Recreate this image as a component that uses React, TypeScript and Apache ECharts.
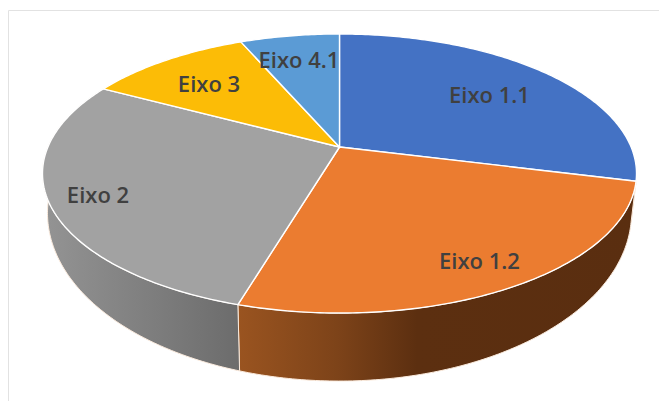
import React, { useEffect, useRef } from "react";
import * as echarts from "echarts";

const categories = ["Eixo 1.1", "Eixo 1.2", "Eixo 2", "Eixo 3", "Eixo 4.1"];
const values = [28.9, 25.7, 28.2, 10.7, 6.5];

const topColors = ["#4472C4", "#EB7C30", "#A2A2A2", "#FCBC06", "#5B9BD5"];
const labelCenters = [
  [489.5, 94],
  [479.5, 260],
  [98, 194],
  [209, 83],
  [299, 59],
];

// perspective geometry of the tilted disc
const CX = 339.5;
const APEX_Y = 147;
const A = 291.6;
const B = 134.5;
const K = -0.19;
const TOP_MID_Y = 173.5;
const BOTTOM_MID_Y = 213;
const BOTTOM_SX = 292 / 297;
const BOTTOM_SY = 168 / 139.5;
const SIDE_FROM = 104;
const SIDE_TO = 300;

const total = values.reduce((s, v) => s + v, 0);
const spans = values.map((v, i) => {
  const before = values.slice(0, i).reduce((s, x) => s + x, 0);
  return [(before / total) * 360, ((before + v) / total) * 360];
});

function topPoint(deg: number): number[] {
  const t = (deg * Math.PI) / 180;
  const X = Math.sin(t);
  const Y = -Math.cos(t);
  const w = 1 + K * Y;
  return [CX + (A * X) / w, APEX_Y + (B * Y) / w];
}

function bottomPoint(deg: number): number[] {
  const [x, y] = topPoint(deg);
  return [CX + (x - CX) * BOTTOM_SX, BOTTOM_MID_Y + (y - TOP_MID_Y) * BOTTOM_SY];
}

function arc(from: number, to: number, fn: (d: number) => number[]): number[][] {
  const pts: number[][] = [];
  const n = Math.max(2, Math.ceil((to - from) / 0.75));
  for (let i = 0; i <= n; i++) pts.push(fn(from + ((to - from) * i) / n));
  return pts;
}

function sideFill(i: number) {
  if (i === 1) {
    return new echarts.graphic.LinearGradient(0, 0, 1, 0, [
      { offset: 0, color: "#9A5420" },
      { offset: 0.25, color: "#7D4319" },
      { offset: 0.45, color: "#5C2F10" },
      { offset: 1, color: "#5A2E10" },
    ]);
  }
  return new echarts.graphic.LinearGradient(0, 0, 1, 0, [
    { offset: 0, color: "#949494" },
    { offset: 0.5, color: "#808080" },
    { offset: 1, color: "#6C6C6C" },
  ]);
}

export default function App() {
  const ref = useRef<HTMLDivElement>(null);

  useEffect(() => {
    document.body.style.margin = "0";
    document.body.style.overflow = "hidden";
    const chart = echarts.init(ref.current!, null, { renderer: "svg" });
    const seriesData = values.map((v, i) => [i, v]);
    chart.setOption({
      animation: false,
      backgroundColor: "#ffffff",
      tooltip: { show: false },
      graphic: [
        {
          type: "polyline",
          silent: true,
          shape: { points: [[8.5, 401], [8.5, 10.5], [659, 10.5]] },
          style: { stroke: "#E2E2E2", lineWidth: 1, fill: "none" },
        },
      ],
      series: [
        {
          type: "custom",
          coordinateSystem: "none",
          z: 1,
          data: seriesData,
          renderItem: (params: any) => {
            const i = params.dataIndex;
            const from = Math.max(spans[i][0], SIDE_FROM);
            const to = Math.min(spans[i][1], SIDE_TO);
            if (to <= from) return { type: "group", children: [] };
            const pts = [...arc(from, to, topPoint), ...arc(from, to, bottomPoint).reverse()];
            return {
              type: "polygon",
              shape: { points: pts },
              style: { fill: sideFill(i), stroke: "#FBEBDD", lineWidth: 1 },
            };
          },
        },
        {
          type: "custom",
          coordinateSystem: "none",
          z: 2,
          data: seriesData,
          renderItem: (params: any) => {
            const i = params.dataIndex;
            const pts = [[CX, APEX_Y], ...arc(spans[i][0], spans[i][1], topPoint)];
            return {
              type: "polygon",
              shape: { points: pts },
              style: { fill: topColors[i], stroke: "#FFFFFF", lineWidth: 1.4, lineJoin: "round" },
            };
          },
        },
        {
          type: "custom",
          coordinateSystem: "none",
          z: 3,
          data: seriesData,
          renderItem: (params: any) => {
            const i = params.dataIndex;
            return {
              type: "text",
              style: {
                text: categories[i],
                x: labelCenters[i][0],
                y: labelCenters[i][1],
                textAlign: "center",
                textVerticalAlign: "middle",
                fill: "#404040",
                font: '600 22px "Open Sans"',
              },
            };
          },
        },
      ],
    });
    return () => chart.dispose();
  }, []);

  return <div ref={ref} style={{ width: 659, height: 401, overflow: "hidden" }} />;
}
